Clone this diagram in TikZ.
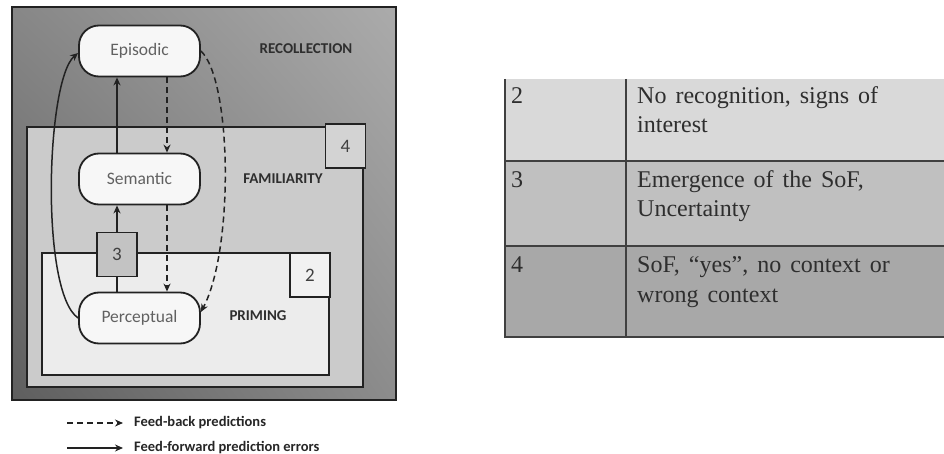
\documentclass[tikz,border=0pt]{standalone}
\usepackage{fontspec}
\setmainfont{Liberation Serif}
\newfontfamily\carl{Carlito}
\usetikzlibrary{arrows.meta,shadings}
\definecolor{famfill}{HTML}{CBCBCB}
\definecolor{primfill}{HTML}{ECECEC}
\definecolor{boxfour}{HTML}{D3D3D3}
\definecolor{boxtwo}{HTML}{F1F1F1}
\definecolor{boxthree}{HTML}{C3C3C3}
\definecolor{rowa}{HTML}{D9D9D9}
\definecolor{rowb}{HTML}{C0C0C0}
\definecolor{rowc}{HTML}{A8A8A8}
\definecolor{ink}{HTML}{222222}
\newcommand\cellfnt{\fontsize{24}{28}\selectfont}
\newcommand\widespaces{\spaceskip=9pt\relax}
\begin{document}
\begin{tikzpicture}[x=1pt,y=-1pt,
  proc/.style={draw=ink, line width=1.8pt, fill=white!97!black, rounded corners=20pt,
    minimum width=121pt, minimum height=51pt, inner sep=0pt,
    font=\carl\fontsize{17.5}{20}\selectfont, text=black!62},
  region/.style={draw=ink, line width=2.8pt},
  numbox/.style={draw=ink, line width=1.8pt, minimum width=40pt, minimum height=44pt,
    inner sep=0pt, font=\carl\fontsize{19}{22}\selectfont, text=black!75},
  zone/.style={font=\carl\bfseries\fontsize{15}{18}\selectfont, text=black!82, inner sep=0pt},
  ff/.style={line width=1.5pt, draw=ink, -{Stealth[length=8pt,width=7pt]}},
  fbk/.style={line width=1.5pt, draw=ink, dash pattern=on 6pt off 4pt, -{Stealth[length=8pt,width=7pt]}},
  legtext/.style={font=\carl\bfseries\fontsize{14.5}{17}\selectfont, text=black!85, anchor=west, inner sep=0pt},
  cell/.style={font=\cellfnt, text=black!82, anchor=base west, inner sep=0pt}
]
\useasboundingbox (0,0) rectangle (944,454);
\fill[white] (0,0) rectangle (944,454);

% outer recollection region
\shade[lower left=black!63, upper right=black!33, upper left=black!47, lower right=black!45]
  (12,7) rectangle (396,400);
\draw[region] (12,7) rectangle (396,400);
% familiarity region
\draw[region, fill=famfill] (27,127) rectangle (363,387);
% priming region
\draw[region, fill=primfill] (42,253) rectangle (329,375);

\node[zone] (rec) at (306,49) {RECOLLECTION};
\node[zone] (fam) at (283,179) {FAMILIARITY};
\node[zone] (pri) at (258,316) {PRIMING};

\node[numbox, fill=boxfour] (b4) at (345.5,146) {4};
\node[numbox, fill=boxtwo] (b2) at (310,275) {2};

% memory systems
\node[proc] (epi) at (139.5,51) {Episodic};
\node[proc] (sem) at (139.5,179) {Semantic};
\node[proc] (per) at (139.5,318) {Perceptual};

% feed-forward
\draw[ff] ([xshift=-22.5pt]per.north) -- ([xshift=-22.5pt]sem.south);
\draw[ff] ([xshift=-22.5pt]sem.north) -- ([xshift=-22.5pt]epi.south);
\draw[ff] (per.west) .. controls (40,292) and (46,80) .. ([yshift=-2pt]epi.west);
% feed-back
\draw[fbk] ([xshift=27.5pt]epi.south) -- ([xshift=27.5pt]sem.north);
\draw[fbk] ([xshift=27.5pt]sem.south) -- ([xshift=27.5pt]per.north);
\draw[fbk] (epi.east) .. controls (232,80) and (234,250) .. ([yshift=6pt]per.east);

\node[numbox, fill=boxthree] (b3) at (117,254.5) {3};

% legend
\coordinate (lb1) at (67,423);
\coordinate (lb2) at (123,423);
\coordinate (lf1) at (67,448);
\coordinate (lf2) at (123,448);
\draw[fbk, line width=1.3pt, dash pattern=on 6pt off 4pt] (lb1) -- (lb2);
\draw[ff, line width=1.3pt] (lf1) -- (lf2);
\node[legtext] (lbt) at (134,423) {Feed-back predictions};
\node[legtext] (lft) at (134,448) {Feed-forward prediction errors};

% table
\fill[rowa] (504,79) rectangle (944,161);
\fill[rowb] (504,161) rectangle (944,246);
\fill[rowc] (504,246) rectangle (944,337);
\draw[black!15, line width=0.6pt] (504,79) -- (944,79);
\draw[black!75, line width=1.8pt] (504,161) -- (944,161);
\draw[black!75, line width=1.8pt] (504,246) -- (944,246);
\draw[black!75, line width=1.8pt] (504,337) -- (944,337);
\draw[black!75, line width=1.8pt] (505,79) -- (505,337);
\draw[black!75, line width=1.8pt] (626,79) -- (626,337);

\node[cell] (n2) at (511,104) {2};
\node[cell] (t2a) at (637,104) {\widespaces No recognition, signs of};
\node[cell] (t2b) at (637,133) {interest};
\node[cell] (n3) at (511,188) {3};
\node[cell] (t3a) at (637,188) {\widespaces Emergence of the SoF,};
\node[cell] (t3b) at (637,217) {Uncertainty};
\node[cell] (n4) at (511,272) {4};
\node[cell] (t4a) at (637,272) {\widespaces SoF, “yes”, no context or};
\node[cell] (t4b) at (637,302) {\widespaces wrong context};
\end{tikzpicture}
\end{document}
